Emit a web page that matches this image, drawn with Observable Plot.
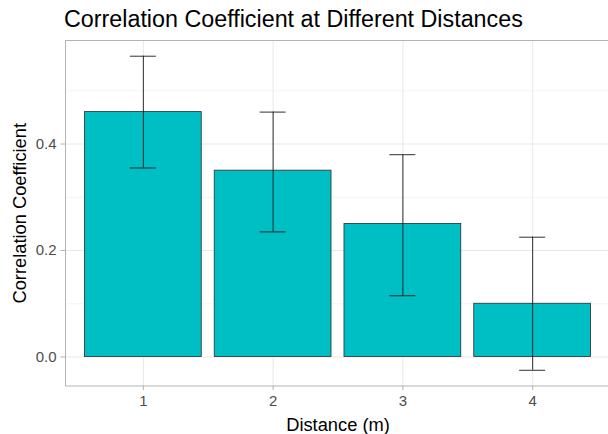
<!DOCTYPE html>
<html><head><meta charset="utf-8">
<script src="https://cdn.jsdelivr.net/npm/d3@7"></script>
<script src="https://cdn.jsdelivr.net/npm/@observablehq/plot@0.6"></script>
<style>
html,body{margin:0;padding:0;background:#fff;overflow:hidden;width:608px;height:434px}
#title{box-sizing:border-box;font-family:"Liberation Sans",Arial,sans-serif;font-size:23.3px;line-height:23.3px;height:39px;padding-top:7.6px;padding-left:64px;color:#000;white-space:nowrap}
#chart svg{display:block;max-width:none !important}
</style></head><body>
<div id="title">Correlation Coefficient at Different Distances</div>
<div id="chart"></div>
<script>
const distances = [1, 2, 3, 4];
const correlation = [0.46, 0.35, 0.25, 0.10];
const lower = [0.355, 0.235, 0.115, -0.025];
const upper = [0.565, 0.46, 0.38, 0.225];
const yTicks = [0, 0.2, 0.4];
const yMinor = [0.1, 0.3, 0.5];
const xLabel = "Distance (m)";
const yLabel = "Correlation Coefficient";

const data = distances.map((d, i) => ({distance: d, r: correlation[i], lo: lower[i], hi: upper[i]}));
const barHalf = 0.45, capHalf = 0.1;
const ink = "#1a1a1a";

const plot = Plot.plot({
  width: 611, height: 395,
  marginTop: 1, marginLeft: 65, marginRight: 1, marginBottom: 48.5,
  style: {fontFamily: '"Liberation Sans", Arial, sans-serif', background: "#fff", overflow: "visible", maxWidth: "none"},
  x: {domain: [0.4, 4.6]},
  y: {domain: [-0.0545, 0.5945]},
  marks: [
    Plot.ruleY(yMinor, {stroke: "#f4f4f4"}),
    Plot.ruleY(yTicks, {stroke: "#e8e8e8"}),
    Plot.ruleX(distances, {stroke: "#e8e8e8"}),
    Plot.rectY(data, {x1: d => d.distance - barHalf, x2: d => d.distance + barHalf, y1: 0, y2: "r", fill: "#00BFC4", stroke: "#2b2b2b", strokeWidth: 0.8}),
    Plot.ruleX(data, {x: "distance", y1: "lo", y2: "hi", stroke: ink, strokeWidth: 0.9}),
    Plot.ruleY(data, {y: "hi", x1: d => d.distance - capHalf, x2: d => d.distance + capHalf, stroke: ink, strokeWidth: 0.9}),
    Plot.ruleY(data, {y: "lo", x1: d => d.distance - capHalf, x2: d => d.distance + capHalf, stroke: ink, strokeWidth: 0.9}),
    Plot.frame({stroke: "#b3b3b3"}),
    Plot.axisX(distances, {tickSize: 4.5, tickPadding: 4.5, stroke: "#b3b3b3", fill: "#4d4d4d", fontSize: 15, tickFormat: d => String(d), label: null}),
    Plot.axisY(yTicks, {tickSize: 4.5, tickPadding: 4.5, stroke: "#b3b3b3", fill: "#4d4d4d", fontSize: 15, tickFormat: d3.format(".1f"), label: null}),
    Plot.text([xLabel], {frameAnchor: "bottom", lineAnchor: "middle", text: d => d, dy: 39.6, fontSize: 18.3, fill: "#000"}),
    Plot.text([yLabel], {frameAnchor: "left", textAnchor: "middle", lineAnchor: "middle", text: d => d, rotate: -90, dx: -45, fontSize: 18.3, fill: "#000"})
  ]
});
plot.style.maxWidth = "none";
document.getElementById("chart").appendChild(plot);
</script>
</body></html>
